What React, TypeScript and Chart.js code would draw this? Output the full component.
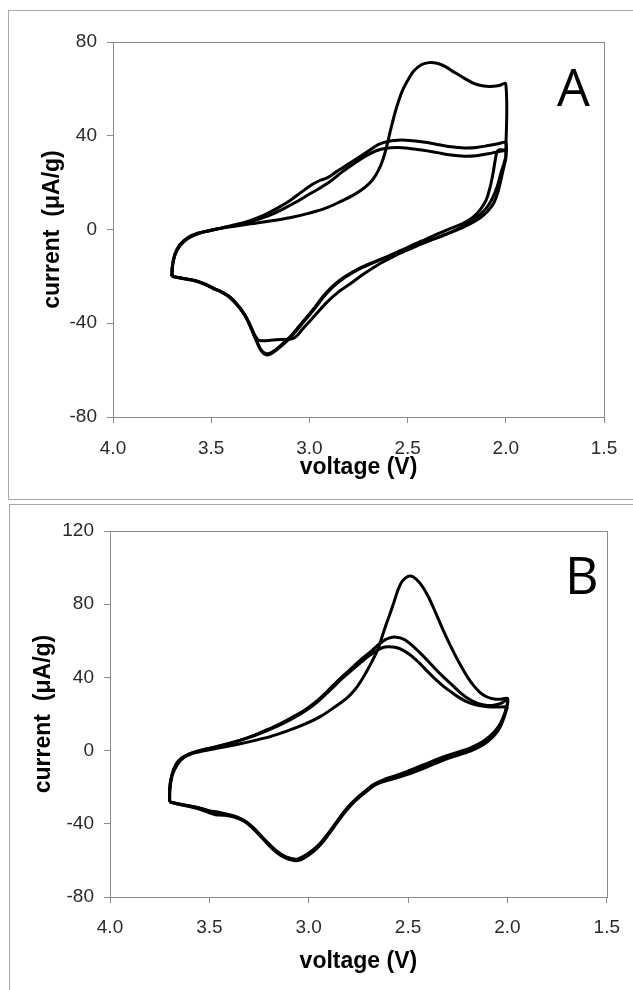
import React, { useEffect, useRef } from "react";
import { Chart, registerables } from "chart.js";

Chart.register(...registerables);

// ---------- axis ticks & titles ----------
const VOLTAGE_TICKS = [4.0, 3.5, 3.0, 2.5, 2.0, 1.5];
const CURRENT_TICKS_A = [-80, -40, 0, 40, 80];
const CURRENT_TICKS_B = [-80, -40, 0, 40, 80, 120];
const X_TITLE = "voltage (V)";
const Y_TITLE = "current  (\u03bcA/g)";

// ---------- panel A : [voltage (V), current (µA/g)] ----------
const A_LOWER_1 = [
  [3.70, -20], [3.64, -20.9], [3.58, -21.8], [3.53, -23.3], [3.49, -25], [3.45, -26.5], [3.41, -28.5],
  [3.37, -31.8], [3.33, -36.3], [3.30, -41], [3.275, -45.5], [3.255, -47.4], [3.17, -47], [3.08, -46.3],
  [3.03, -42], [2.97, -36.5], [2.91, -31], [2.85, -26.5], [2.79, -23], [2.72, -18.8], [2.64, -14.5],
  [2.56, -11], [2.48, -8], [2.40, -5.2], [2.32, -2.6], [2.25, 0], [2.19, 2.8], [2.14, 5.8], [2.10, 9],
  [2.07, 13], [2.045, 18], [2.025, 24], [2.01, 28], [2.00, 31],
];
const A_UPPER_1 = [
  [2.00, 31], [2.00, 62], [2.04, 61.3], [2.08, 61], [2.12, 61.3], [2.16, 62.2], [2.21, 64.5], [2.26, 67],
  [2.31, 69.6], [2.35, 70.9], [2.39, 71.2], [2.43, 70.3], [2.47, 67.5], [2.50, 63.5], [2.53, 58.5],
  [2.56, 51], [2.585, 43], [2.605, 36], [2.625, 30], [2.65, 25], [2.68, 21], [2.72, 17.8], [2.77, 15],
  [2.84, 12], [2.92, 9], [3.00, 7], [3.10, 5], [3.20, 3.6], [3.30, 2.4], [3.38, 1.4], [3.45, 0.5],
  [3.51, -0.5], [3.57, -1.6], [3.62, -3.5], [3.66, -6.5], [3.685, -10.5], [3.697, -15], [3.70, -20],
];
const A_LOWER_2 = [
  [3.70, -20], [3.64, -20.9], [3.58, -21.8], [3.53, -23.3], [3.49, -25], [3.45, -26.5], [3.41, -28.5],
  [3.37, -31.8], [3.33, -36.3], [3.30, -41.5], [3.27, -47.5], [3.245, -51.8], [3.22, -53.5], [3.19, -52.8],
  [3.14, -49.5], [3.09, -45.5], [3.04, -40.5], [2.98, -34.5], [2.93, -29], [2.88, -24.5], [2.82, -20.5],
  [2.75, -17], [2.67, -14], [2.59, -11.3], [2.51, -8.5], [2.42, -5.6], [2.33, -2.8], [2.25, -0.3],
  [2.18, 2.5], [2.13, 5], [2.09, 8], [2.06, 11.5], [2.04, 16], [2.025, 21], [2.012, 26], [2.00, 30],
];
const A_UPPER_2 = [
  [2.00, 30], [2.00, 37], [2.04, 36.6], [2.09, 35.8], [2.15, 35], [2.21, 34.8], [2.28, 35.3], [2.35, 36.3],
  [2.42, 37.3], [2.49, 38], [2.55, 38.1], [2.61, 37.4], [2.65, 36.2], [2.69, 34], [2.74, 31.2], [2.80, 28],
  [2.86, 24.8], [2.91, 22], [2.95, 20.8], [2.99, 19], [3.04, 16], [3.10, 12.3], [3.17, 8.8], [3.24, 5.8],
  [3.31, 3.6], [3.38, 2], [3.45, 0.6], [3.51, -0.5], [3.57, -1.8], [3.62, -3.8], [3.66, -7], [3.685, -11],
  [3.697, -15.5], [3.70, -20],
];
const A_LOWER_3 = [
  [3.70, -20], [3.64, -21], [3.58, -22], [3.53, -23.5], [3.49, -25.2], [3.45, -26.6], [3.41, -28.7],
  [3.37, -32], [3.33, -36.5], [3.30, -41.5], [3.27, -47.3], [3.245, -51.5], [3.22, -53], [3.19, -52.3],
  [3.14, -49], [3.09, -45], [3.04, -40], [2.98, -34], [2.93, -28.5], [2.88, -24], [2.82, -20.2],
  [2.75, -16.8], [2.67, -13.8], [2.59, -11], [2.51, -8], [2.43, -5], [2.35, -2], [2.28, 0.5], [2.22, 2.5],
  [2.17, 5], [2.13, 8.5], [2.10, 12.5], [2.08, 18], [2.065, 24], [2.055, 29], [2.045, 33], [2.03, 34],
  [2.00, 33.8],
];
const A_UPPER_3 = [
  [2.00, 33.8], [2.04, 33.2], [2.09, 32.3], [2.15, 31.5], [2.21, 31.3], [2.28, 31.8], [2.35, 32.8],
  [2.42, 33.8], [2.49, 34.6], [2.55, 35], [2.61, 34.7], [2.66, 33.6], [2.71, 31.5], [2.77, 28.3],
  [2.83, 24.8], [2.89, 20.8], [2.95, 17.5], [3.01, 14.6], [3.07, 11.6], [3.14, 8.5], [3.21, 5.8],
  [3.29, 3.6], [3.37, 2], [3.44, 0.7], [3.51, -0.5], [3.57, -1.8], [3.62, -3.8], [3.66, -7], [3.685, -11],
  [3.697, -15.5], [3.70, -20],
];

// ---------- panel B : [voltage (V), current (µA/g)] ----------
const B_UPPER_1 = [
  [2.00, 26], [2.00, 28.5], [2.04, 28], [2.08, 28.5], [2.11, 29.7], [2.14, 32], [2.17, 35.5], [2.20, 40],
  [2.23, 45.5], [2.26, 51.5], [2.29, 58], [2.32, 65], [2.36, 75], [2.40, 84.5], [2.44, 91.5], [2.475, 95],
  [2.50, 95.2], [2.53, 92.5], [2.55, 88], [2.57, 81.5], [2.59, 75], [2.61, 69], [2.63, 62.5], [2.65, 56],
  [2.68, 49], [2.71, 43], [2.74, 37.5], [2.77, 33], [2.81, 28.5], [2.86, 24.5], [2.94, 18.7], [3.02, 14.4],
  [3.11, 10.6], [3.19, 7.8], [3.27, 5.6], [3.35, 3.6], [3.42, 2.1], [3.48, 0.9], [3.54, -0.4], [3.59, -1.8],
  [3.63, -4], [3.66, -7.5], [3.685, -13], [3.697, -20], [3.70, -28],
];
const B_UPPER_2 = [
  [2.00, 24.6], [2.00, 28], [2.03, 26], [2.07, 24.8], [2.11, 24.8], [2.15, 25.8], [2.19, 27.9], [2.23, 31],
  [2.27, 35], [2.32, 40], [2.36, 44.3], [2.40, 49], [2.44, 53.4], [2.48, 57.5], [2.52, 60.8], [2.56, 62],
  [2.60, 61.3], [2.63, 59.5], [2.66, 56.8], [2.70, 53], [2.74, 49.5], [2.78, 45.5], [2.82, 41.5],
  [2.86, 37.5], [2.91, 32], [2.96, 27], [3.02, 22.2], [3.09, 17.8], [3.16, 13.8], [3.24, 10], [3.31, 7],
  [3.38, 4.6], [3.45, 2.6], [3.51, 1], [3.56, -0.3], [3.60, -1.8], [3.64, -4.2], [3.67, -8], [3.69, -14],
  [3.70, -21], [3.70, -28],
];
const B_UPPER_3 = [
  [2.00, 24], [2.04, 23.8], [2.08, 23.8], [2.12, 24.2], [2.16, 25], [2.20, 26.5], [2.24, 28.8], [2.28, 31.8],
  [2.32, 35], [2.36, 38.8], [2.40, 43], [2.44, 47.5], [2.48, 51.5], [2.52, 54.5], [2.56, 56.3], [2.60, 56.7],
  [2.63, 56.2], [2.66, 54.5], [2.70, 51.5], [2.74, 48], [2.78, 44.3], [2.82, 40.5], [2.86, 36.5],
  [2.91, 31.2], [2.96, 26.3], [3.02, 21.5], [3.09, 17], [3.16, 13.2], [3.24, 9.6], [3.31, 6.8], [3.38, 4.4],
  [3.45, 2.5], [3.51, 1], [3.56, -0.3], [3.60, -1.8], [3.64, -4.2], [3.67, -8], [3.69, -14], [3.70, -21],
  [3.70, -28],
];
const B_LOWER_1 = [
  [3.70, -28], [3.65, -29.3], [3.59, -30.5], [3.54, -31.8], [3.50, -33.3], [3.46, -34.3], [3.41, -35],
  [3.37, -36], [3.32, -38.5], [3.28, -42], [3.24, -46.5], [3.20, -51], [3.16, -55], [3.12, -57.8],
  [3.08, -59.3], [3.05, -59.5], [3.02, -58], [2.98, -55], [2.94, -51], [2.90, -45.5], [2.86, -39.5],
  [2.82, -33.5], [2.78, -28.5], [2.74, -24.5], [2.70, -21], [2.66, -18], [2.61, -15.8], [2.56, -14.3],
  [2.51, -12.6], [2.46, -10.6], [2.40, -8], [2.34, -5.3], [2.28, -3], [2.22, -1], [2.17, 1], [2.12, 4],
  [2.08, 7.5], [2.05, 11], [2.03, 15], [2.013, 20], [2.00, 26],
];
const B_LOWER_2 = [
  [3.70, -28], [3.65, -29.5], [3.59, -30.8], [3.54, -32.3], [3.50, -34], [3.47, -35], [3.43, -35.3],
  [3.38, -36.2], [3.33, -38.3], [3.29, -41.5], [3.25, -45.8], [3.21, -50.5], [3.17, -54.5], [3.13, -57.5],
  [3.09, -59], [3.06, -59.3], [3.03, -58], [2.99, -55.3], [2.95, -51.5], [2.91, -46.3], [2.87, -40.5],
  [2.83, -34.5], [2.79, -29.3], [2.75, -25.2], [2.71, -21.6], [2.67, -18.3], [2.62, -15.8], [2.57, -14],
  [2.52, -12], [2.47, -9.8], [2.41, -7.2], [2.35, -4.5], [2.29, -2.2], [2.23, -0.2], [2.18, 1.8],
  [2.13, 4.5], [2.09, 7.8], [2.06, 11], [2.035, 15], [2.015, 20], [2.00, 25],
];
const B_LOWER_3 = [
  [3.70, -28], [3.65, -29.2], [3.59, -30.4], [3.54, -31.6], [3.50, -32.8], [3.46, -33.6], [3.41, -34.8],
  [3.37, -36], [3.32, -38.8], [3.28, -42.5], [3.24, -47], [3.20, -51.8], [3.16, -55.8], [3.12, -58.5],
  [3.08, -60], [3.05, -60], [3.02, -58.5], [2.98, -55.5], [2.94, -51.3], [2.90, -45.8], [2.86, -39.8],
  [2.82, -34], [2.78, -29], [2.74, -25], [2.70, -21.5], [2.66, -18.5], [2.61, -16.5], [2.56, -15],
  [2.51, -13.3], [2.46, -11.3], [2.40, -8.7], [2.34, -6], [2.28, -3.6], [2.22, -1.5], [2.17, 0.5],
  [2.12, 3.3], [2.08, 6.8], [2.05, 10.5], [2.03, 14.5], [2.013, 19.5], [2.00, 24],
];

// ---------- styling ----------
const FONT = "'Liberation Sans', Arial, sans-serif";
const AXIS_COLOR = "#8a8a8a";
const TICK_TEXT = "#2a2a2a";
const WIDTH = 633;

type PanelSpec = {
  letter: string;
  canvasTop: number;
  height: number;
  plotTop: number;
  plotRight: number;
  plotBottom: number;
  yAxisWidth: number;
  yTitlePad: number;
  xTitlePad: number;
  xTickPad: number;
  letterX: number;
  letterY: number;
  yMin: number;
  yMax: number;
  yTicks: number[];
  series: number[][][];
};

const PANELS: PanelSpec[] = [
  {
    letter: "A", canvasTop: 0, height: 500, plotTop: 42, plotRight: 604, plotBottom: 417,
    yAxisWidth: 113, yTitlePad: 38.5, xTitlePad: 18.5, xTickPad: 14, letterX: 557, letterY: 106,
    yMin: -80, yMax: 80, yTicks: CURRENT_TICKS_A,
    series: [A_LOWER_1, A_UPPER_1, A_LOWER_2, A_UPPER_2, A_LOWER_3, A_UPPER_3],
  },
  {
    letter: "B", canvasTop: 500, height: 490, plotTop: 31, plotRight: 612, plotBottom: 397,
    yAxisWidth: 110, yTitlePad: 29.5, xTitlePad: 14.5, xTickPad: 13, letterX: 565, letterY: 94,
    yMin: -80, yMax: 120, yTicks: CURRENT_TICKS_B,
    series: [B_UPPER_1, B_UPPER_2, B_UPPER_3, B_LOWER_1, B_LOWER_2, B_LOWER_3],
  },
];

function buildConfig(p: PanelSpec): any {
  const framePlugin = {
    id: "frame" + p.letter,
    afterDraw(chart: any) {
      const { ctx, chartArea } = chart;
      ctx.save();
      ctx.strokeStyle = AXIS_COLOR;
      ctx.lineWidth = 1;
      const l = Math.round(chartArea.left) + 0.5;
      const r = Math.round(chartArea.right) + 0.5;
      const t = Math.round(chartArea.top) + 0.5;
      const b = Math.round(chartArea.bottom) + 0.5;
      ctx.strokeRect(l, t, r - l, b - t);
      ctx.fillStyle = "#000";
      ctx.font = "52px 'Open Sans', 'DejaVu Sans', sans-serif";
      ctx.textBaseline = "alphabetic";
      ctx.textAlign = "left";
      ctx.fillText(p.letter, p.letterX, p.letterY);
      ctx.restore();
    },
  };

  return {
    type: "scatter",
    data: {
      datasets: p.series.map((s) => ({
        data: s.map(([x, y]) => ({ x, y })),
        showLine: true,
        borderColor: "#000",
        backgroundColor: "#000",
        borderWidth: 3,
        pointRadius: 0,
        pointHoverRadius: 0,
        tension: 0.35,
        fill: false,
      })),
    },
    options: {
      responsive: false,
      animation: false,
      devicePixelRatio: 1,
      events: [],
      layout: { padding: { left: 0, top: p.plotTop, right: WIDTH - p.plotRight, bottom: 0 } },
      plugins: { legend: { display: false }, tooltip: { enabled: false } },
      scales: {
        x: {
          type: "linear",
          min: 1.5,
          max: 4.0,
          reverse: true,
          afterBuildTicks: (scale: any) => {
            scale.ticks = VOLTAGE_TICKS.map((v) => ({ value: v }));
          },
          afterFit: (scale: any) => {
            scale.height = p.height - p.plotBottom;
          },
          ticks: {
            autoSkip: false,
            maxRotation: 0,
            padding: p.xTickPad,
            color: TICK_TEXT,
            font: { family: FONT, size: 19 },
            callback: (v: any) => Number(v).toFixed(1),
          },
          grid: { display: true, drawOnChartArea: false, drawTicks: true, tickLength: 6, color: AXIS_COLOR, lineWidth: 1 },
          border: { display: true, color: AXIS_COLOR, width: 1 },
          title: {
            display: true,
            text: X_TITLE,
            color: "#000",
            font: { family: FONT, size: 23, weight: "bold" },
            padding: { top: 0, bottom: p.xTitlePad },
          },
        },
        y: {
          type: "linear",
          min: p.yMin,
          max: p.yMax,
          afterBuildTicks: (scale: any) => {
            scale.ticks = p.yTicks.map((v) => ({ value: v }));
          },
          afterFit: (scale: any) => {
            scale.width = p.yAxisWidth;
          },
          ticks: {
            autoSkip: false,
            padding: 10,
            color: TICK_TEXT,
            font: { family: FONT, size: 19 },
            callback: (v: any) => String(v),
          },
          grid: { display: true, drawOnChartArea: false, drawTicks: true, tickLength: 6, color: AXIS_COLOR, lineWidth: 1 },
          border: { display: true, color: AXIS_COLOR, width: 1 },
          title: {
            display: true,
            text: Y_TITLE,
            color: "#000",
            font: { family: FONT, size: 23, weight: "bold" },
            padding: { top: p.yTitlePad, bottom: 0 },
          },
        },
      },
    },
    plugins: [framePlugin],
  };
}

function Panel({ spec }: { spec: PanelSpec }) {
  const ref = useRef<HTMLCanvasElement | null>(null);
  useEffect(() => {
    if (!ref.current) return;
    const chart = new Chart(ref.current, buildConfig(spec));
    return () => chart.destroy();
  }, [spec]);
  return (
    <canvas
      ref={ref}
      width={WIDTH}
      height={spec.height}
      style={{ position: "absolute", left: 0, top: spec.canvasTop, width: WIDTH, height: spec.height, display: "block" }}
    />
  );
}

export default function App() {
  return (
    <div style={{ position: "absolute", left: 0, top: 0, width: WIDTH, height: 990, overflow: "hidden", background: "#fff" }}>
      <div style={{ position: "absolute", left: 8, top: 10, width: 700, height: 490, border: "1.5px solid #a8a8a8", boxSizing: "border-box" }} />
      <div style={{ position: "absolute", left: 9, top: 504, width: 700, height: 600, border: "1.5px solid #a8a8a8", boxSizing: "border-box" }} />
      {PANELS.map((p) => (
        <Panel key={p.letter} spec={p} />
      ))}
    </div>
  );
}
